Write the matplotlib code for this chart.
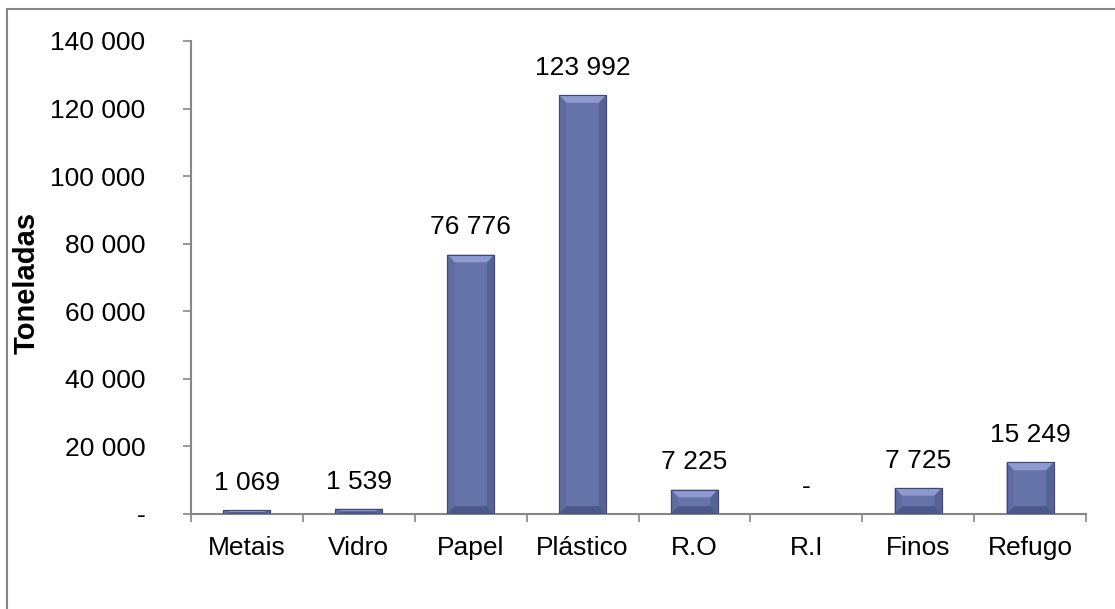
import numpy as np
import matplotlib
matplotlib.use("Agg")
import matplotlib.pyplot as plt
from matplotlib.patches import Polygon, Rectangle

plt.rcParams['font.family'] = ['Liberation Sans', 'DejaVu Sans']

categorias = ["Metais", "Vidro", "Papel", "Plástico", "R.O", "R.I", "Finos", "Refugo"]
toneladas = [1069, 1539, 76776, 123992, 7225, 0, 7725, 15249]
y_ticks = [0, 20000, 40000, 60000, 80000, 100000, 120000, 140000]


def fmt(v):
    # thousands with a space, zero shown as a dash
    if v == 0:
        return "-"
    return f"{v:,.0f}".replace(",", " ")


fig = plt.figure(figsize=(11.15, 6.09), dpi=100)
ax = fig.add_axes([0.1713, 0.156, 0.8027, 0.7767])

x = np.arange(len(categorias))
largura = 0.42
base = "#6673A9"
bars = ax.bar(x, toneladas, width=largura, color=base,
              edgecolor="#3E4877", linewidth=0.8, zorder=2)

# bevel shading on each bar
for b in bars:
    x0 = b.get_x()
    x1 = x0 + b.get_width()
    h = b.get_height()
    if h <= 0:
        continue
    bx = 0.065
    by = min(2300, h / 2)
    faces = [
        ([(x0, h), (x1, h), (x1 - bx, h - by), (x0 + bx, h - by)], "#8E9AD0"),
        ([(x0, 0), (x1, 0), (x1 - bx, by), (x0 + bx, by)], "#4C578A"),
        ([(x0, 0), (x0, h), (x0 + bx, h - by), (x0 + bx, by)], "#5F6BA1"),
        ([(x1, 0), (x1, h), (x1 - bx, h - by), (x1 - bx, by)], "#566296"),
    ]
    for pts, c in faces:
        ax.add_patch(Polygon(pts, closed=True, facecolor=c, edgecolor="none", zorder=3))
    ax.add_patch(Rectangle((x0, 0), x1 - x0, h, fill=False,
                           edgecolor="#3E4877", linewidth=0.8, zorder=4))

for xi, v in zip(x, toneladas):
    ax.annotate(fmt(v), (xi, v), xytext=(0, 11), textcoords="offset points",
                ha="center", va="bottom", fontsize=19, color="black")

ax.set_xlim(-0.5, len(categorias) - 0.5)
ax.set_ylim(0, 140000)
ax.set_yticks(y_ticks)
ax.set_yticklabels([fmt(v) for v in y_ticks])
ax.set_xticks(np.arange(len(categorias) + 1) - 0.5)
ax.set_xticklabels([])
ax.set_xticks(x, minor=True)
ax.set_xticklabels(categorias, minor=True)

ax.tick_params(axis="y", which="major", direction="out", length=6,
               width=1.2, color="#868686", pad=27, labelsize=19)
ax.tick_params(axis="x", which="major", direction="out", length=6,
               width=1.2, color="#868686")
ax.tick_params(axis="x", which="minor", length=0, pad=16, labelsize=19)

for s in ["top", "right"]:
    ax.spines[s].set_visible(False)
for s in ["left", "bottom"]:
    ax.spines[s].set_color("#868686")
    ax.spines[s].set_linewidth(1.5)

ax.set_ylabel("Toneladas", fontsize=21, fontweight="bold")
ax.yaxis.set_label_coords(-0.168, 0.488)

# outer chart border
fig.patches.append(Rectangle((7 / 1115, -0.1), 1.2, 1 - 9 / 609 + 0.1,
                             transform=fig.transFigure, fill=False,
                             edgecolor="#868686", linewidth=1.5))

fig.savefig("out.png", dpi=100)
